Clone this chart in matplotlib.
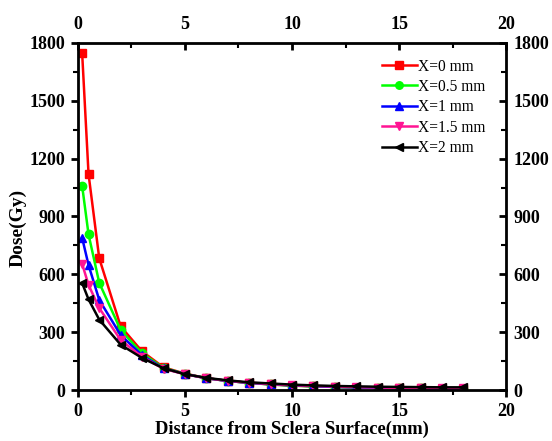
import numpy as np
import matplotlib.pyplot as plt
from matplotlib.ticker import MultipleLocator

# Depth points (mm) and dose (Gy) for each lateral offset X
dist = [0.2, 0.5, 1, 2, 3, 4, 5, 6, 7, 8, 9, 10, 11, 12, 13, 14, 15, 16, 17, 18]
dose_x0 = [1750, 1120, 683, 330, 200, 118, 85, 62, 47, 37, 29, 23, 19, 16, 13, 11, 9, 8, 7, 6]
dose_x05 = [1060, 807, 556, 311, 190, 115, 84, 61, 47, 37, 29, 23, 19, 16, 13, 11, 9, 8, 7, 6]
dose_x1 = [790, 648, 467, 285, 180, 112, 83, 61, 47, 37, 30, 24, 20, 16, 14, 12, 10, 9, 8, 7]
dose_x15 = [655, 545, 425, 259, 172, 110, 82, 61, 48, 38, 31, 25, 21, 18, 15, 13, 11, 10, 9, 8]
dose_x2 = [555, 470, 365, 235, 166, 113, 82, 63, 50, 40, 34, 28, 24, 21, 19, 17, 16, 15, 14, 14]

labels = ['X=0 mm', 'X=0.5 mm', 'X=1 mm', 'X=1.5 mm', 'X=2 mm']
series = [dose_x0, dose_x05, dose_x1, dose_x15, dose_x2]
colors = ['#FF0000', '#00FF00', '#0000FF', '#FF1493', '#000000']
markers = ['s', 'o', '^', 'v', '<']

plt.rcParams['font.family'] = ['Liberation Serif', 'DejaVu Serif']

fig = plt.figure(figsize=(5.52, 4.41), dpi=100)
ax = fig.add_axes([0.141, 0.1156, 0.776, 0.787])

for y, lab, c, m in zip(series, labels, colors, markers):
    ax.plot(dist, y, color=c, marker=m, markersize=6, linewidth=1.8, label=lab)

ax.set_xlim(0, 20)
ax.set_ylim(0, 1800)
ax.xaxis.set_major_locator(MultipleLocator(5))
ax.xaxis.set_minor_locator(MultipleLocator(2.5))
ax.yaxis.set_major_locator(MultipleLocator(300))
ax.yaxis.set_minor_locator(MultipleLocator(150))

for s in ax.spines.values():
    s.set_linewidth(2)

ax.tick_params(which='major', direction='out', length=5, width=2, labelsize=13, pad=4)
ax.tick_params(which='minor', direction='out', length=3.5, width=1.5)
for t in ax.get_xticklabels() + ax.get_yticklabels():
    t.set_fontweight('bold')

# mirrored axes on top and right
top = ax.secondary_xaxis('top')
top.xaxis.set_major_locator(MultipleLocator(5))
top.xaxis.set_minor_locator(MultipleLocator(2.5))
top.tick_params(which='major', direction='in', length=5, width=2, labelsize=13, pad=7)
top.tick_params(which='minor', direction='in', length=3.5, width=1.5)
right = ax.secondary_yaxis('right')
right.yaxis.set_major_locator(MultipleLocator(300))
right.yaxis.set_minor_locator(MultipleLocator(150))
right.tick_params(which='major', direction='in', length=5, width=2, labelsize=13, pad=5)
right.tick_params(which='minor', direction='in', length=3.5, width=1.5)
for t in top.get_xticklabels() + right.get_yticklabels():
    t.set_fontweight('bold')
# empty labels of the mirror axes are not needed
top.xaxis.label.set_visible(False)
right.yaxis.label.set_visible(False)
top.xaxis.offsetText.set_visible(False)
right.yaxis.offsetText.set_visible(False)
ax.xaxis.offsetText.set_visible(False)
ax.yaxis.offsetText.set_visible(False)

ax.set_xlabel('Distance from Sclera Surface(mm)', fontsize=13.3, fontweight='bold', labelpad=1)
ax.set_ylabel('Dose(Gy)', fontsize=14, fontweight='bold')
ax.yaxis.set_label_coords(-0.119, 0.467)

ax.legend(loc='upper left', bbox_to_anchor=(0.71, 0.955), frameon=False, fontsize=11.2,
          handlelength=2.25, handletextpad=0.05, labelspacing=0.28, borderpad=0,
          borderaxespad=0, markerscale=0.9)

fig.savefig('out.png', dpi=100)
